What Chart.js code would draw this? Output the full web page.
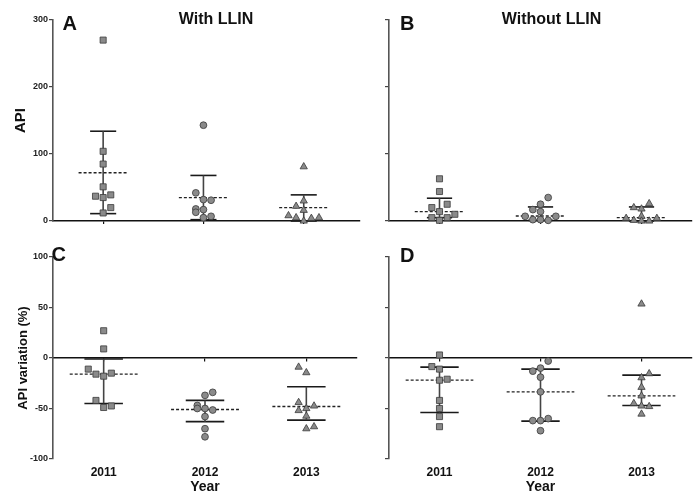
<!DOCTYPE html>
<html>
<head>
<meta charset="utf-8">
<script src="https://cdn.jsdelivr.net/npm/chart.js@4.4.1/dist/chart.umd.min.js"></script>
<style>
  html, body { margin: 0; padding: 0; background: #fff; }
  #wrap { position: relative; width: 699px; height: 497px; overflow: hidden; }
  .panel { position: absolute; }
</style>
</head>
<body>
<div id="wrap">
  <div class="panel" style="left:0;top:0;width:365px;height:240px"><canvas id="chartA"></canvas></div>
  <div class="panel" style="left:365px;top:0;width:334px;height:240px"><canvas id="chartB"></canvas></div>
  <div class="panel" style="left:0;top:240px;width:365px;height:257px"><canvas id="chartC"></canvas></div>
  <div class="panel" style="left:365px;top:240px;width:334px;height:257px"><canvas id="chartD"></canvas></div>
</div>
<script>
const years = ["2011", "2012", "2013"];

// A - API, with LLIN
const apiWith2011 = [270, 104, 85, 51, 37, 35, 39, 20, 12];
const apiWith2012 = [143, 42, 32, 31, 18, 17, 13, 7, 5];
const apiWith2013 = [81, 30, 22, 16, 8, 5, 0, 4, 5];
const apiWithSlots = [[0, 0, 0, 0, -1, 0, 1, 1, 0], [0, -1, 0, 1, -1, 0, -1, 1, 0], [0, 0, -1, 0, -2, -1, 0, 1, 2]];
const apiWithMid = [72, 35, 20];
const apiWithLow = [11, 2, 0];
const apiWithHigh = [134, 68, 39];

// B - API, without LLIN
const apiWithout2011 = [63, 44, 25, 20, 14, 10, 5, 5, 1];
const apiWithout2012 = [35, 25, 17, 14, 7, 7, 2, 2, 1];
const apiWithout2013 = [26, 20, 18, 7, 4, 4, 1, 0, 0];
const apiWithoutSlots = [[0, 0, 1, -1, 0, 2, -1, 1, 0], [1, 0, -1, 0, -2, 2, -1, 0, 1], [1, -1, 0, 0, -2, 2, -1, 0, 1]];
const apiWithoutMid = [14, 7.5, 5];
const apiWithoutLow = [5, 1, 0];
const apiWithoutHigh = [34, 21, 21];

// C - API variation (%), with LLIN
const varWith2011 = [27, 9, -11, -16, -18, -15, -42, -49, -47.5];
const varWith2012 = [-37, -34, -47, -50, -50, -51.5, -58, -70, -78];
const varWith2013 = [-9, -14.5, -44, -50, -47.5, -52, -57.5, -70, -68];
const varWithSlots = [[0, 0, -2, -1, 0, 1, -1, 0, 1], [0, 1, -1, -1, 0, 1, 0, 0, 0], [-1, 0, -1, 0, 1, -1, 0, 0, 1]];
const varWithMid = [-16, -51, -48];
const varWithLow = [-45, -63, -61.5];
const varWithHigh = [-1, -42, -28.5];

// D - API variation (%), without LLIN
const varWithout2011 = [3, -8.5, -11, -21, -22, -42, -50, -58, -68];
const varWithout2012 = [-3, -10, -13, -19, -33.5, -62, -62, -60, -72];
const varWithout2013 = [53.5, -15.5, -19.5, -29, -37.5, -45, -47.5, -48, -55.5];
const varWithoutSlots = [[0, -1, 0, 1, 0, 0, 0, 0, 0], [1, 0, -1, 0, 0, -1, 0, 1, 0], [0, 1, 0, 0, 0, -1, 0, 1, 0]];
const varWithoutMid = [-22, -33.5, -37.5];
const varWithoutLow = [-54, -62.5, -47];
const varWithoutHigh = [-9, -11, -17];

const FONT = '"Liberation Sans", Arial, Helvetica, sans-serif';
Chart.defaults.font.family = FONT;
Chart.defaults.color = "#111";

const JITTER = 0.076;
const markers = ["rect", "circle", "triangle"];
const markerSize = [4.3, 3.4, 4.2];

// small plugin: panel letters and headings
const panelText = {
    id: "panelText",
    afterDraw(chart, args, opts) {
        const ctx = chart.ctx;
        ctx.save();
        ctx.fillStyle = "#111";
        ctx.textBaseline = "alphabetic";
        (opts.items || []).forEach(it => {
            ctx.font = it.font;
            ctx.textAlign = it.align || "left";
            ctx.fillText(it.text, it.x, it.y);
        });
        ctx.restore();
    },
};

function segment(points, color, width, dash) {
    return {
        data: points,
        showLine: true,
        pointRadius: 0,
        borderColor: color,
        borderWidth: width,
        borderDash: dash || [],
        clip: false,
    };
}

function buildDatasets(groups, slots, mid, low, high, capHalf, midHalf) {
    const sets = [];
    groups.forEach((vals, i) => {
        sets.push({
            data: vals.map((v, k) => ({ x: i + 1 + slots[i][k] * JITTER, y: v })),
            showLine: false,
            pointStyle: markers[i],
            pointRadius: markerSize[i],
            backgroundColor: "#8a8a8a",
            borderColor: "#3a3a3a",
            borderWidth: 0.8,
            clip: false,
        });
    });
    mid.forEach((m, i) => {
        const x = i + 1;
        sets.push(segment([{ x: x - midHalf, y: m }, { x: x + midHalf, y: m }], "#222", 1.3, [3, 2]));
        sets.push(segment([{ x, y: low[i] }, { x, y: high[i] }], "#444", 1.6));
        sets.push(segment([{ x: x - capHalf, y: high[i] }, { x: x + capHalf, y: high[i] }], "#1a1a1a", 1.6));
        sets.push(segment([{ x: x - capHalf, y: low[i] }, { x: x + capHalf, y: low[i] }], "#1a1a1a", 1.6));
    });
    return sets;
}

const yearTicks = s => { s.ticks = years.map((_, i) => ({ value: i + 1 })); };

function apiScales(showLabels, yWidth, xMax) {
    return {
        x: {
            type: "linear", min: 0.5, max: xMax, position: "bottom",
            afterBuildTicks: yearTicks,
            afterFit: s => { s.height = 19; },
            ticks: { display: false },
            grid: { drawOnChartArea: false, tickLength: 3, color: "#111", lineWidth: 1.2 },
            border: { color: "#111", width: 1.6 },
        },
        y: {
            min: 0, max: 300,
            afterFit: s => { s.width = yWidth; },
            ticks: { display: showLabels, stepSize: 100, padding: 1, font: { size: 9, weight: "bold" }, color: "#222" },
            grid: { drawOnChartArea: false, tickLength: 4, color: "#444", lineWidth: 1.2 },
            border: { color: "#555", width: 1.6 },
            title: { display: showLabels, text: "API", font: { size: 15, weight: "bold" }, padding: { top: 12, bottom: 0 } },
        },
    };
}

function varScales(showLabels, yWidth) {
    return {
        x: {
            type: "linear", min: 0.5, max: 3.5, position: { y: 0 },
            afterBuildTicks: yearTicks,
            ticks: { display: false },
            grid: { drawOnChartArea: false, tickLength: 3, color: "#111", lineWidth: 1.2 },
            border: { color: "#111", width: 1.5 },
        },
        x2: {
            type: "linear", axis: "x", min: 0.5, max: 3.5, position: "bottom",
            afterBuildTicks: yearTicks,
            afterFit: s => { s.height = 38; },
            ticks: { callback: v => years[Math.round(v) - 1], padding: 6, maxRotation: 0, autoSkip: false,
                     font: { size: 12, weight: "bold" }, color: "#111" },
            grid: { display: false, drawTicks: false },
            border: { display: false },
            title: { display: true, text: "Year", font: { size: 14, weight: "bold" }, padding: { top: 0, bottom: 1 } },
        },
        y: {
            min: -100, max: 100,
            afterFit: s => { s.width = yWidth; },
            ticks: { display: showLabels, stepSize: 50, padding: 1, font: { size: 9, weight: "bold" }, color: "#222" },
            grid: { drawOnChartArea: false, tickLength: 4, color: "#444", lineWidth: 1.2 },
            border: { color: "#555", width: 1.6 },
            title: { display: showLabels, text: "API variation (%)", font: { size: 13, weight: "bold" }, padding: { top: 16, bottom: 0 } },
        },
    };
}

function makeChart(id, datasets, scales, padding, texts) {
    new Chart(document.getElementById(id), {
        type: "scatter",
        data: { datasets },
        options: {
            animation: false,
            responsive: true,
            maintainAspectRatio: false,
            layout: { padding },
            scales,
            plugins: {
                legend: { display: false },
                tooltip: { enabled: false },
                panelText: { items: texts },
            },
        },
        plugins: [panelText],
    });
}

const letterFont = "bold 20px " + FONT;
const headFont = "bold 16px " + FONT;

makeChart("chartA",
    buildDatasets([apiWith2011, apiWith2012, apiWith2013], apiWithSlots, apiWithMid, apiWithLow, apiWithHigh, 0.13, 0.245),
    apiScales(true, 53, 3.56),
    { top: 20, right: 2, left: 0, bottom: 0 },
    [{ text: "A", x: 62.5, y: 29.5, font: letterFont }, { text: "With LLIN", x: 216, y: 23.5, align: "center", font: headFont }]);

makeChart("chartB",
    buildDatasets([apiWithout2011, apiWithout2012, apiWithout2013], apiWithoutSlots, apiWithoutMid, apiWithoutLow, apiWithoutHigh, 0.125, 0.245),
    apiScales(false, 24, 3.5),
    { top: 20, right: 7, left: 0, bottom: 0 },
    [{ text: "B", x: 35, y: 30, font: letterFont }, { text: "Without LLIN", x: 186.5, y: 23.5, align: "center", font: headFont }]);

makeChart("chartC",
    buildDatasets([varWith2011, varWith2012, varWith2013], varWithSlots, varWithMid, varWithLow, varWithHigh, 0.19, 0.335),
    varScales(true, 53),
    { top: 17, right: 8, left: 0, bottom: 0 },
    [{ text: "C", x: 51.5, y: 20.5, font: letterFont }]);

makeChart("chartD",
    buildDatasets([varWithout2011, varWithout2012, varWithout2013], varWithoutSlots, varWithoutMid, varWithoutLow, varWithoutHigh, 0.19, 0.335),
    varScales(false, 24),
    { top: 17, right: 7, left: 0, bottom: 0 },
    [{ text: "D", x: 35, y: 21.5, font: letterFont }]);
</script>
</body>
</html>
